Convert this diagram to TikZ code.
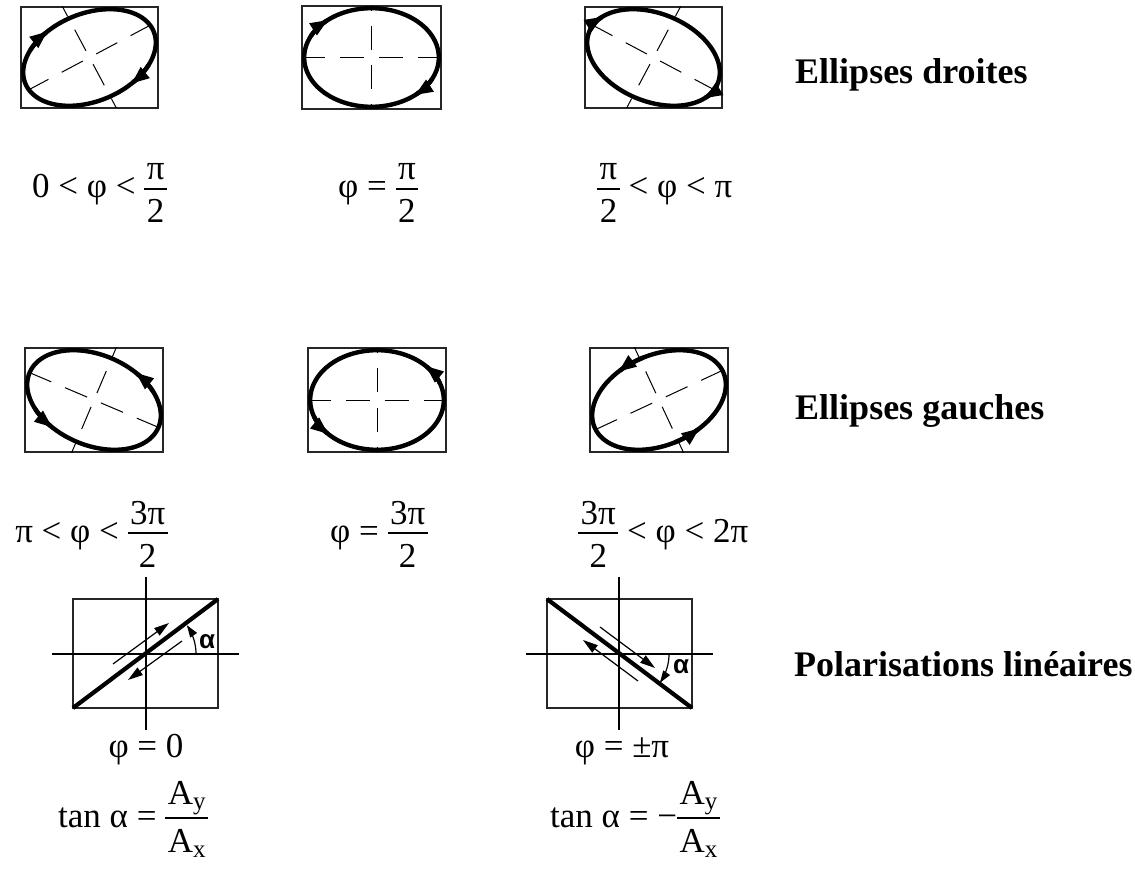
\documentclass[tikz,border=0pt]{standalone}
\usepackage{fontspec}
\setmainfont{Liberation Serif}
\newfontfamily\arialfont{Liberation Sans}
\usetikzlibrary{arrows.meta}
\newbox\frnum \newbox\frden \newdimen\frdim
\newcommand\fr[3][18pt]{%
  \setbox\frnum=\hbox{#2}\setbox\frden=\hbox{#3}%
  \frdim=\wd\frnum \ifdim\wd\frden>\frdim \frdim=\wd\frden \fi
  \advance\frdim by 5pt
  \hbox to \frdim{%
    \rlap{\hbox to \frdim{\hss\raise #1\box\frnum\hss}}%
    \rlap{\hbox to \frdim{\hss\lower 25pt\box\frden\hss}}%
    \rlap{\vrule height 9.8pt depth -8.4pt width \frdim}%
    \hss}}
\newcommand\subs[1]{\raisebox{-5pt}{\fontsize{25}{28}\selectfont #1}}
\newcommand\ellbox[8]{% cx cy a b phi t0 axisangle name
  \coordinate (#8) at (#1,#2);
  \draw[boxline] ({#1-#3},{#2-#4}) rectangle ({#1+#3},{#2+#4});
  \begin{scope}
    \clip ({#1-#3},{#2-#4}) rectangle ({#1+#3},{#2+#4});
    \draw[axisline] (#8) -- ++({300*cos(#7)},{-300*sin(#7)});
    \draw[axisline] (#8) -- ++({300*cos(#7+90)},{-300*sin(#7+90)});
    \draw[axisline] (#8) -- ++({300*cos(#7+180)},{-300*sin(#7+180)});
    \draw[axisline] (#8) -- ++({300*cos(#7+270)},{-300*sin(#7+270)});
  \end{scope}
  \draw[ellline] plot[domain=0:360,samples=240] ({#1+(#3-2.2)*cos(\x)},{#2-(#4-2.2)*cos(\x-#5)}) -- cycle;
  \draw[ellarrow] plot[domain=#6+24:#6,samples=15] ({#1+(#3-2.2)*cos(\x)},{#2-(#4-2.2)*cos(\x-#5)});
  \draw[ellarrow] plot[domain=#6+204:#6+180,samples=15] ({#1+(#3-2.2)*cos(\x)},{#2-(#4-2.2)*cos(\x-#5)});
}
\tikzset{
  boxline/.style={line width=1.2pt, draw=black!85},
  axisline/.style={line width=1pt, dash pattern=on 24pt off 15pt, dash phase=31.5pt},
  ellline/.style={line width=4.4pt, line join=round},
  ellarrow/.style={line width=4.4pt, -{Triangle[length=18pt,width=13pt]}},
  thinline/.style={line width=1.2pt},
  thinarrow/.style={line width=1.2pt, -{Triangle[length=15pt,width=9pt]}},
  arcarrow/.style={line width=1.2pt, -{Triangle[length=12pt,width=8pt]}},
  biglabel/.style={font=\fontsize{36}{42}\selectfont\bfseries, anchor=base west, inner sep=0pt},
  mathlabel/.style={font=\fontsize{35}{42}\selectfont, inner sep=0pt},
  alphalabel/.style={font=\fontsize{26}{30}\selectfont\arialfont\bfseries, inner sep=0pt}
}
\begin{document}
\begin{tikzpicture}[x=1pt,y=-1pt]
\path[use as bounding box] (0,0) rectangle (1135,874);

% Row 1
\ellbox{89.5}{57.5}{68.5}{50.5}{72}{129}{28}{e1}
\ellbox{371.5}{57.5}{69.5}{51.5}{90}{130}{0}{e2}
\ellbox{653.5}{57.5}{68.5}{50.5}{108}{140}{-28}{e3}
% Row 2
\ellbox{94}{400}{69}{52}{252}{308.5}{-23}{e4}
\ellbox{377}{400}{69}{52}{270}{136.5}{0}{e5}
\ellbox{659}{400}{69}{52}{288}{232.5}{25}{e6}

% Row 1 labels
\node[mathlabel, anchor=base west] (t1) at (32,198) {0 < φ < \fr{π}{2}};
\node[mathlabel, anchor=base west] (t2) at (338,198) {φ = \fr{π}{2}};
\node[mathlabel, anchor=base west] (t3) at (597,198) {\fr{π}{2} < φ < π};
\node[biglabel] (l1) at (795,84) {Ellipses droites};

% Row 2 labels
\node[mathlabel, anchor=base east] (t4) at (168,542) {π < φ < \fr{3π}{2}};
\node[mathlabel, anchor=base west] (t5) at (330,542) {φ = \fr{3π}{2}};
\node[mathlabel, anchor=base west] (t6) at (578,542) {\fr{3π}{2} < φ < 2π};
\node[biglabel] (l2) at (795,420) {Ellipses gauches};

% Row 3: linear polarisation phi = 0
\coordinate (c7) at (146,654);
\draw[boxline] (73,599) rectangle (218,708);
\coordinate (h7a) at (52,654); \coordinate (h7b) at (239,654);
\coordinate (v7a) at (146,577); \coordinate (v7b) at (146,730);
\draw[thinline] (h7a) -- (h7b);
\draw[thinline] (v7a) -- (v7b);
\coordinate (d7a) at (73,708); \coordinate (d7b) at (218,599);
\draw[line width=4.2pt] (d7a) -- (d7b);
\coordinate (p7a) at (113,664); \coordinate (p7b) at (169,623);
\draw[thinarrow] (p7a) -- (p7b);
\coordinate (q7a) at (182,641); \coordinate (q7b) at (128,680);
\draw[thinarrow] (q7a) -- (q7b);
\draw[arcarrow] plot[domain=0:35,samples=20] ({146+50*cos(\x)},{654-50*sin(\x)});
\node[alphalabel] (a7) at (207,642) {α};

% Row 3: phi = +-pi
\coordinate (c8) at (619,654);
\draw[boxline] (547,599) rectangle (692,708);
\coordinate (h8a) at (526,654); \coordinate (h8b) at (713,654);
\coordinate (v8a) at (619,577); \coordinate (v8b) at (619,730);
\draw[thinline] (h8a) -- (h8b);
\draw[thinline] (v8a) -- (v8b);
\coordinate (d8a) at (547,599); \coordinate (d8b) at (692,708);
\draw[line width=4.2pt] (d8a) -- (d8b);
\coordinate (p8a) at (600,627); \coordinate (p8b) at (655,668);
\draw[thinarrow] (p8a) -- (p8b);
\coordinate (q8a) at (638,681); \coordinate (q8b) at (583,640);
\draw[thinarrow] (q8a) -- (q8b);
\draw[arcarrow] plot[domain=0:35,samples=20] ({619+50*cos(\x)},{654+50*sin(\x)});
\node[alphalabel] (a8) at (681,667) {α};

\node[biglabel] (l3) at (794,676) {Polarisations linéaires};

\node[mathlabel, anchor=base] (t7) at (146,757) {φ = 0};
\node[mathlabel, anchor=base west] (t8) at (58,827) {tan α = \fr[23pt]{A\subs{y}}{A\subs{x}}};
\node[mathlabel, anchor=base] (t9) at (622,757) {φ = ±π};
\node[mathlabel, anchor=base west] (t10) at (550,827) {tan α = −\fr[23pt]{A\subs{y}}{A\subs{x}}};
\end{tikzpicture}
\end{document}
